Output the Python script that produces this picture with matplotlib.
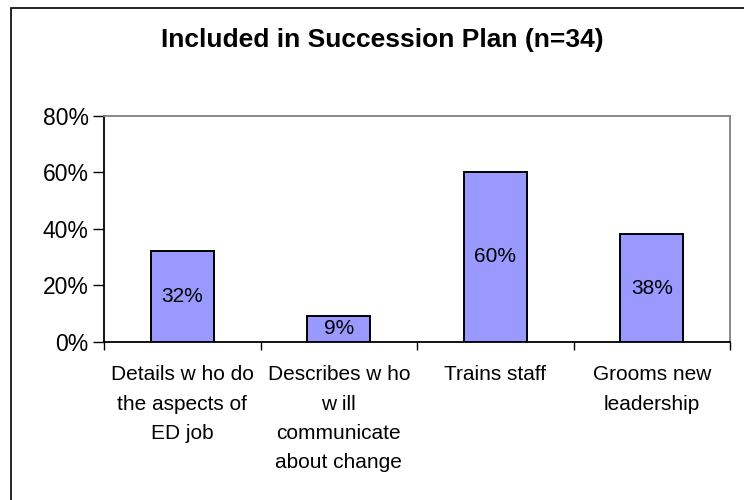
import matplotlib
matplotlib.use('Agg')
import matplotlib.pyplot as plt
from matplotlib.patches import Rectangle
import numpy as np

plt.rcParams['font.family'] = ['Liberation Sans', 'DejaVu Sans']

categories = [
    'Details w ho do\nthe aspects of\nED job',
    'Describes w ho\nw ill\ncommunicate\nabout change',
    'Trains staff',
    'Grooms new\nleadership',
]
values = [32, 9, 60, 38]
y_ticks = [0, 20, 40, 60, 80]
title = 'Included in Succession Plan (n=34)'

fig = plt.figure(figsize=(7.44, 5), dpi=100)
ax = fig.add_axes([104 / 744, 1 - 341.7 / 500, 626 / 744, 226 / 500])

# outer chart border (cropped on right and bottom like the screenshot)
fig.patches.append(Rectangle((10.7 / 744, -0.1), 1.2, 1 - 8 / 500 + 0.1,
                             transform=fig.transFigure, fill=False,
                             edgecolor='black', linewidth=1.2))

x = np.arange(len(values))
bars = ax.bar(x, values, width=0.4, color='#9999FF', edgecolor='black', linewidth=1.4, zorder=3)

for xi, v in zip(x, values):
    ax.text(xi, v / 2, f'{v}%', ha='center', va='center', fontsize=15, zorder=4)

ax.set_xlim(-0.5, len(values) - 0.5)
ax.set_ylim(0, 80)
ax.set_yticks(y_ticks)
ax.set_yticklabels([f'{t}%' for t in y_ticks], fontsize=16.5)
ax.tick_params(axis='y', direction='out', length=8, width=1, pad=3)

# category ticks sit between bars
ax.set_xticks(np.arange(len(values) + 1) - 0.5)
ax.set_xticklabels([])
ax.tick_params(axis='x', direction='out', length=6, width=1)
for xi, lab in zip(x, categories):
    ax.text(xi, -0.105, lab, transform=ax.get_xaxis_transform(), ha='center', va='top',
            fontsize=15, linespacing=1.68)

ax.spines['left'].set_color('black')
ax.spines['bottom'].set_color('black')
ax.spines['top'].set_color('#808080')
ax.spines['right'].set_color('#808080')
for s in ax.spines.values():
    s.set_linewidth(1.3)

fig.text(382 / 744, 1 - 40 / 500, title, ha='center', va='center', fontsize=19, fontweight='bold')

fig.savefig('out.png', dpi=100)
